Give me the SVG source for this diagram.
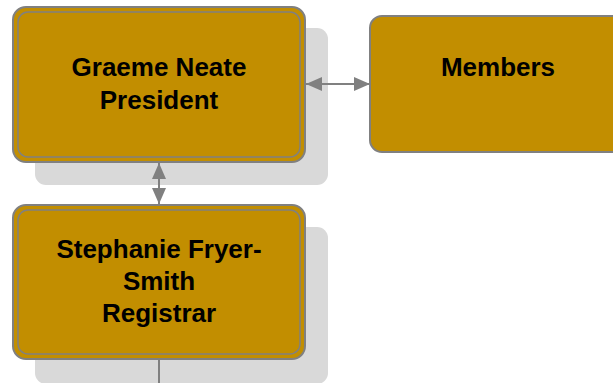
<svg xmlns="http://www.w3.org/2000/svg" width="613" height="383" viewBox="0 0 613 383">
<defs>
<style>
.shadow{fill:#D9D9D9;}
.box{fill:#C28E00;stroke:#808080;stroke-width:2;}
.inner{fill:none;stroke:#808080;stroke-width:1.5;}
.conn{stroke:#808080;stroke-width:2;fill:none;}
.lbl{font-family:"Liberation Sans",Arial,sans-serif;font-weight:bold;font-size:26px;fill:#000;text-anchor:middle;}
</style>
<marker id="ah" viewBox="0 0 16 14" refX="16" refY="7" markerWidth="16" markerHeight="14" markerUnits="userSpaceOnUse" orient="auto">
<path d="M0,0 L16,7 L0,14 Z" fill="#808080"/>
</marker>
</defs>
<rect width="613" height="383" fill="#fff"/>
<g id="president">
<rect class="shadow" x="35" y="28" width="293" height="157" rx="11"/>
<rect class="box" x="13" y="7" width="292" height="155" rx="13"/>
<rect class="inner" x="18" y="12" width="282" height="145" rx="10"/>
<text class="lbl" x="159" y="76">Graeme Neate</text>
<text class="lbl" x="159" y="109">President</text>
</g>
<g id="members">
<rect class="box" x="370" y="16" width="260" height="136" rx="12"/>
<text class="lbl" x="498" y="76">Members</text>
</g>
<g id="registrar">
<rect class="shadow" x="35" y="227" width="293" height="157" rx="11"/>
<rect class="box" x="13" y="205" width="292" height="154" rx="13"/>
<rect class="inner" x="18" y="210" width="282" height="144" rx="10"/>
<text class="lbl" x="159" y="258">Stephanie Fryer-</text>
<text class="lbl" x="159" y="290">Smith</text>
<text class="lbl" x="159" y="322">Registrar</text>
</g>
<g id="connectors">
<line class="conn" x1="338" y1="84" x2="306" y2="84" marker-end="url(#ah)"/>
<line class="conn" x1="338" y1="84" x2="370" y2="84" marker-end="url(#ah)"/>
<line class="conn" x1="159" y1="183" x2="159" y2="163" marker-end="url(#ah)"/>
<line class="conn" x1="159" y1="183" x2="159" y2="204" marker-end="url(#ah)"/>
<line class="conn" x1="159" y1="360" x2="159" y2="383"/>
</g>
</svg>
